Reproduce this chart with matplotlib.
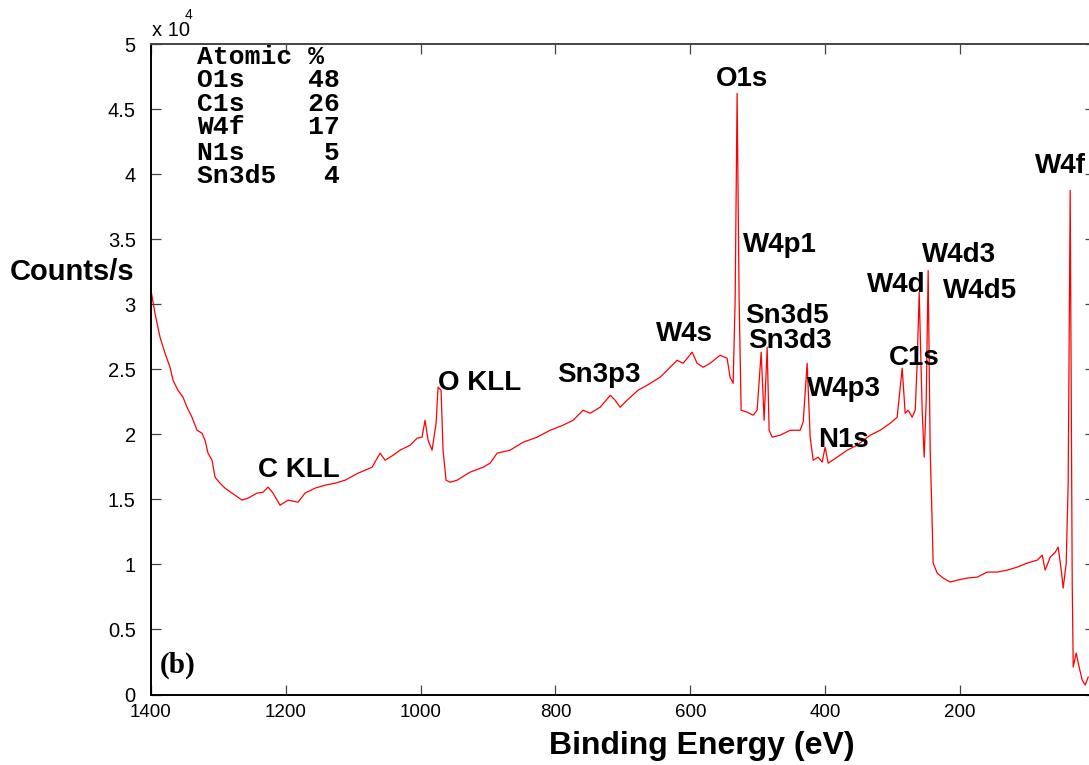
import matplotlib
matplotlib.use("Agg")
import matplotlib.pyplot as plt

# ---------------- data (binding energy eV, counts/s in units of 1e4) ----------------
energy = [1400.0, 1394.1, 1386.6, 1379.2, 1371.8, 1367.4, 1360.0, 1352.5, 1346.6, 1339.2,
          1331.7, 1324.3, 1319.9, 1315.4, 1309.5, 1305.0, 1297.6, 1290.2, 1279.8, 1265.0,
          1256.1, 1242.7, 1233.8, 1226.4, 1219.0, 1208.6, 1196.7, 1181.9, 1171.5, 1156.7,
          1141.8, 1127.0, 1112.2, 1092.9, 1072.1, 1060.2, 1052.8, 1040.9,
          1030.6, 1015.7, 1005.3, 997.9, 993.5, 989.0, 983.1, 977.1, 974.2, 969.7,
          966.8, 962.3, 956.4, 946.0, 926.7, 907.4, 897.0, 886.6, 867.3, 848.1,
          827.3, 808.0, 788.7, 773.9, 759.0, 748.6, 733.8, 718.6, 711.6, 704.1,
          693.8, 677.4, 664.1, 644.8, 630.0, 619.6, 610.7, 597.3, 589.9, 581.0,
          570.6, 555.8, 545.4, 541.0, 536.5, 533.5, 530.6, 527.6, 524.6, 515.7,
          506.8, 500.9, 494.9, 490.5, 486.0, 483.1, 478.6, 466.8, 451.9, 437.1,
          432.6, 426.7, 422.2, 417.8, 410.4, 404.4, 400.0, 395.5, 382.2, 367.3,
          352.5, 333.2, 318.4, 303.5, 293.2, 285.7, 281.3, 276.8, 270.9, 266.4,
          263.5, 260.5, 256.1, 253.1, 250.1, 247.2, 244.2, 241.2, 239.8, 233.8,
          224.9, 214.5, 204.1, 189.3, 174.5, 159.6, 144.8, 129.9, 115.1, 100.3,
          85.4, 78.0, 73.6, 66.1, 58.7, 54.3, 49.8, 46.9, 42.4, 39.5,
          36.5, 33.5, 32.0, 27.6, 24.6, 18.7, 14.2, 9.8]
counts = [3.107, 2.930, 2.746, 2.623, 2.515, 2.416, 2.339, 2.285, 2.208, 2.131,
          2.031, 2.008, 1.955, 1.855, 1.801, 1.670, 1.624, 1.586, 1.548, 1.494,
          1.509, 1.548, 1.555, 1.594, 1.548, 1.455, 1.494, 1.478, 1.548, 1.586,
          1.609, 1.624, 1.647, 1.701, 1.747, 1.855, 1.801, 1.839,
          1.878, 1.916, 1.970, 1.978, 2.108, 1.955, 1.878, 2.085, 2.362, 2.339,
          1.878, 1.647, 1.632, 1.647, 1.709, 1.747, 1.778, 1.855, 1.878, 1.939,
          1.978, 2.031, 2.070, 2.108, 2.185, 2.162, 2.208, 2.300, 2.262, 2.208,
          2.262, 2.339, 2.377, 2.439, 2.515, 2.569, 2.546, 2.631, 2.546, 2.515,
          2.546, 2.608, 2.584, 2.439, 2.392, 3.030, 4.620, 3.030, 2.185, 2.170,
          2.147, 2.185, 2.631, 2.108, 2.669, 2.031, 1.978, 1.993, 2.031, 2.031,
          2.093, 2.546, 1.978, 1.801, 1.824, 1.786, 1.901, 1.778, 1.824, 1.878,
          1.916, 1.993, 2.031, 2.085, 2.131, 2.508, 2.162, 2.185, 2.131, 2.185,
          2.546, 3.091, 2.185, 1.824, 2.262, 3.260, 1.878, 1.317, 1.010, 0.933,
          0.895, 0.864, 0.879, 0.895, 0.902, 0.941, 0.941, 0.956, 0.979, 1.010,
          1.033, 1.071, 0.956, 1.056, 1.094, 1.133, 0.956, 0.818, 1.010, 1.624,
          3.875, 0.856, 0.211, 0.319, 0.242, 0.111, 0.073, 0.134]

peak_labels = ["O1s", "W4p1", "Sn3d5", "Sn3d3", "W4p3", "W4s", "C1s", "W4d", "W4d3",
               "W4d5", "W4f", "N1s", "O KLL", "C KLL", "Sn3p3"]
label_energy = [561.7, 521.6, 518.7, 514.2, 426.7, 650.7, 305.0, 337.7, 256.1,
                224.9, 88.4, 410.4, 974.2, 1241.2, 797.6]
label_counts = [4.681, 3.399, 2.853, 2.661, 2.293, 2.715, 2.531, 3.091, 3.322,
                3.045, 4.005, 1.901, 2.339, 1.671, 2.400]

atomic_names = ["O1s", "C1s", "W4f", "N1s", "Sn3d5"]
atomic_pct = [48, 26, 17, 5, 4]

x_ticks = [1400, 1200, 1000, 800, 600, 400, 200]
y_ticks = [0, 0.5, 1, 1.5, 2, 2.5, 3, 3.5, 4, 4.5, 5]
y_tick_labels = ["0", "0.5", "1", "1.5", "2", "2.5", "3", "3.5", "4", "4.5", "5"]

# ---------------- figure ----------------
W, H = 1089, 765
fig = plt.figure(figsize=(W / 100, H / 100), dpi=100)
ax = fig.add_axes([151 / W, 1 - 694.5 / H, (1094.8 - 151) / W, (694.5 - 44) / H])

ax.plot(energy, counts, color="red", linewidth=0.9)

ax.set_xlim(1400, 0)
ax.set_ylim(0, 5)
ax.set_xticks(x_ticks)
ax.set_xticklabels([str(t) for t in x_ticks])
ax.set_yticks(y_ticks)
ax.set_yticklabels(y_tick_labels)

sans = "Liberation Sans"
ax.tick_params(axis="both", direction="in", length=7, width=0.9, color="#444444",
               top=True, right=True)
ax.tick_params(axis="y", pad=11, labelsize=14.5)
ax.tick_params(axis="x", pad=7, labelsize=13.5)
for lab in ax.get_xticklabels() + ax.get_yticklabels():
    lab.set_fontfamily(sans)
for s in ["left", "bottom"]:
    ax.spines[s].set_linewidth(1.4)
    ax.spines[s].set_color("black")
for s in ["top", "right"]:
    ax.spines[s].set_linewidth(1.4)
    ax.spines[s].set_color("#444444")

for name, e, c in zip(peak_labels, label_energy, label_counts):
    ax.text(e, c, name, fontsize=20, fontweight="bold", family=sans,
            ha="left", va="baseline", clip_on=False)

# atomic % table
row_y = [57, 80, 104, 127, 153, 176]
rows = ["Atomic %"] + [f"{n:<6s}{p:>3d}" for n, p in zip(atomic_names, atomic_pct)]
for txt, yy in zip(rows, row_y):
    fig.text(197 / W, 1 - yy / H, txt, fontsize=19, fontweight="bold",
             family="Liberation Mono", ha="left", va="center")

ax.text(160 / W, 1 - 665 / H, "(b)", transform=fig.transFigure, fontsize=21,
        fontweight="bold", family="Liberation Serif", ha="left", va="center")

# axis labels
fig.text(10 / W, 1 - 272 / H, "Counts/s", fontsize=21, fontweight="bold",
         family=sans, ha="left", va="center")
fig.text(702 / W, 1 - 746 / H, "Binding Energy (eV)", fontsize=23, fontweight="bold",
         family=sans, ha="center", va="center")

# scale factor
fig.text(152 / W, 1 - 36 / H, "x 10", fontsize=14.5, family=sans, ha="left", va="baseline")
fig.text(185 / W, 1 - 19 / H, "4", fontsize=10, family=sans, ha="left", va="baseline")

fig.savefig("out.png", dpi=100)
